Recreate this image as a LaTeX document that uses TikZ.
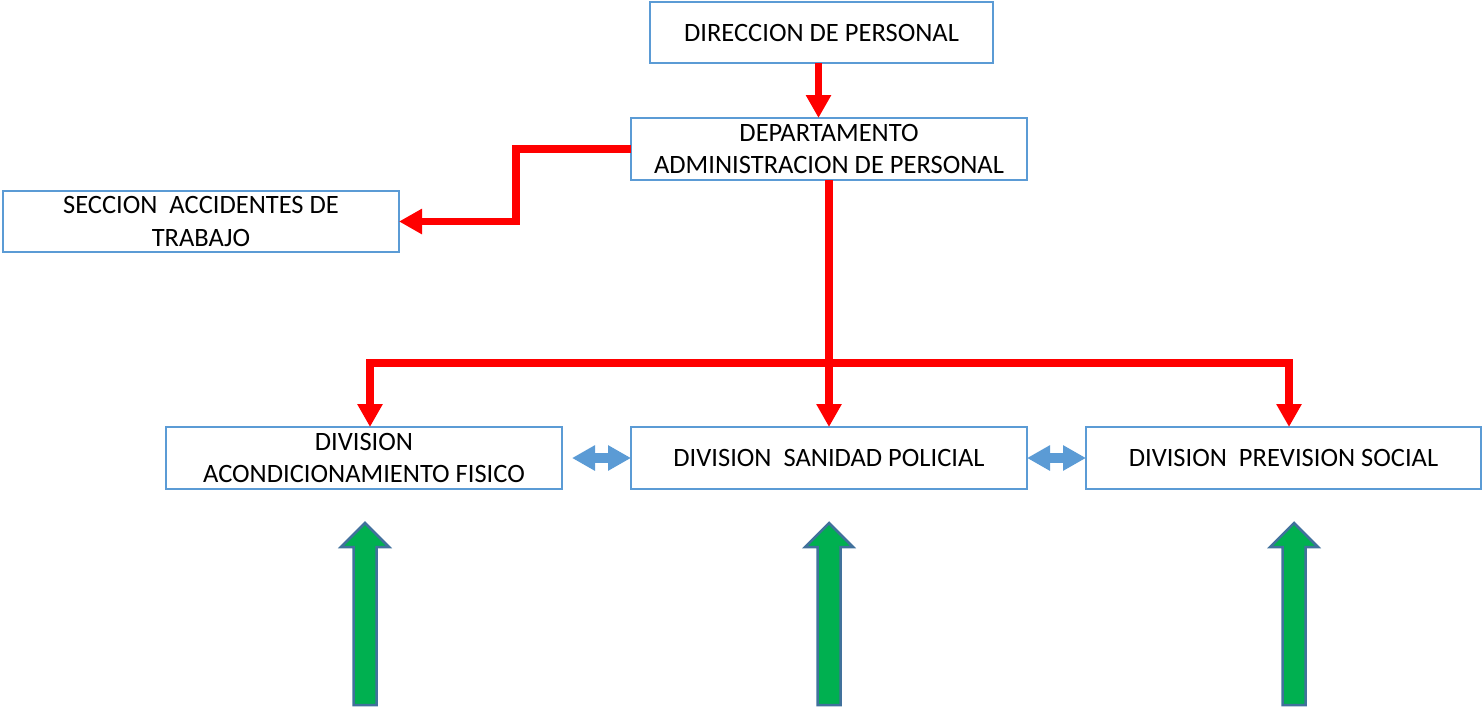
\documentclass[tikz,border=0pt]{standalone}
\usepackage{fontspec}
\setmainfont{Carlito}
\usetikzlibrary{arrows.meta,positioning}
\definecolor{boxblue}{HTML}{5B9BD5}
\definecolor{arrowred}{HTML}{FF0000}
\definecolor{arrowgreen}{HTML}{00B050}
\definecolor{edgeblue}{HTML}{41719C}

\begin{document}
\begin{tikzpicture}
    [x=1pt, y=-1pt,
    >={Triangle[length=23pt,width=24pt]},
    every node/.style={font=\fontsize{26.5}{32.5}\selectfont},
    unit/.style={
      rectangle,
      minimum width=396pt,
      minimum height=62pt,
      outer sep=0pt,
      align=center,
      draw=boxblue,
      fill=white,
      line width=2.5pt},
    link/.style={->, draw=arrowred, line width=7.5pt},
    swap link/.style={<->, draw=boxblue, line width=10pt},
    lift/.style={fill=arrowgreen, draw=edgeblue, line width=2.5pt}
    ]
    \useasboundingbox (0,0) rectangle (1482,707);
    \node (dir) [unit, minimum width=343pt, minimum height=61pt] at (821.5,32.5) {DIRECCION DE PERSONAL};
    \node (dept) [unit] at (829,149) {DEPARTAMENTO\\ADMINISTRACION DE PERSONAL};
    \node (secc) [unit, minimum height=61pt] at (201,221.5) {SECCION~ ACCIDENTES DE\\TRABAJO};
    \node (sp) [unit] at (829,458) {DIVISION~ SANIDAD POLICIAL};
    \node (af) [unit, left=69pt of sp] {DIVISION\\ACONDICIONAMIENTO FISICO};
    \node (ps) [unit, minimum width=395pt, right=59pt of sp] {DIVISION~ PREVISION SOCIAL};
    \coordinate (drop) at ([xshift=-3pt]dir.south);
    \coordinate (bar) at (829,363);
    % red links
    \draw[link] (drop) -- (drop |- dept.north);
    \draw[link] (dept.west) -- ++(-115,0) |- (secc.east);
    \draw[link] (dept.south) -- (sp.north);
    \draw[link] (bar) -| ([xshift=6pt]af.north);
    \draw[link] (bar) -| ([xshift=5.5pt]ps.north);
    % blue two way links
    \draw[swap link, shorten <=10pt] (af) -- (sp);
    \draw[swap link] (sp) -- (ps);
    % green arrows
    \foreach \x in {365,829,1294}
      \draw[lift] (\x-11.5,705) -- (\x-11.5,547) -- (\x-24,547) -- (\x,523)
        -- (\x+24,547) -- (\x+11.5,547) -- (\x+11.5,705) -- cycle;
\end{tikzpicture}
\end{document}
